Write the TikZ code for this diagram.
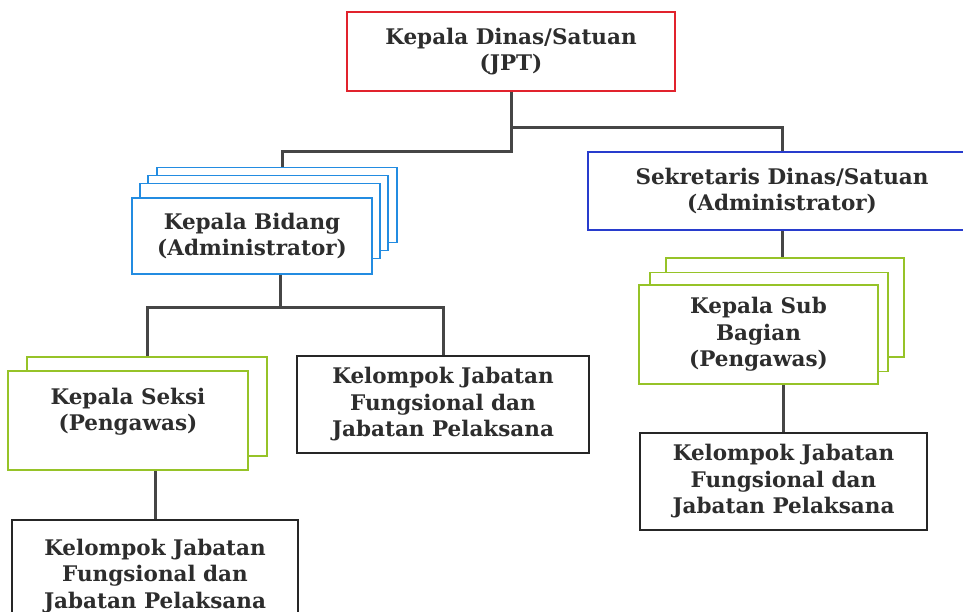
\documentclass[tikz,border=0pt]{standalone}
\usepackage{fontspec}
\setmainfont{DejaVu Serif}
\usetikzlibrary{positioning}
\definecolor{jptred}{RGB}{225,35,45}
\definecolor{bidangblue}{RGB}{35,140,225}
\definecolor{sekblue}{RGB}{40,60,205}
\definecolor{pengawasgreen}{RGB}{150,195,40}
\definecolor{linkgray}{RGB}{70,70,70}
\definecolor{txtgray}{RGB}{45,45,45}
\newcommand{\boxfont}{\bfseries\fontsize{21.5}{26.5}\selectfont}

\begin{document}
\begin{tikzpicture}[x=1pt,y=-1pt,
  orgbox/.style={draw,fill=white,line width=1.8pt,inner sep=0pt,
    text=txtgray,font=\boxfont,align=center},
  boxtext/.style={text=txtgray,font=\boxfont,align=center,inner sep=0pt},
  link/.style={draw=linkgray,line width=3pt}]
\clip (0,0) rectangle (963,612);
\fill[white] (0,0) rectangle (963,612);
% head of office
\node[orgbox,draw=jptred,minimum width=328pt,minimum height=79pt] (jpt) at (511,51.5)
  {Kepala Dinas/Satuan\\(JPT)};
% stack of Kepala Bidang boxes
\foreach \cx/\cy [count=\i] in {277/205,268/213,260/221}
  {\node[orgbox,draw=bidangblue,minimum width=240pt,minimum height=75pt] (bidangback\i) at (\cx,\cy) {};}
\node[orgbox,draw=bidangblue,minimum width=240pt,minimum height=76pt] (bidang) at (252,236)
  {Kepala Bidang\\(Administrator)};
% secretary
\node[orgbox,draw=sekblue,minimum width=388pt,minimum height=78pt] (sekretaris) at (782,191)
  {Sekretaris Dinas/Satuan\\(Administrator)};
% stack of Kepala Sub Bagian boxes
\foreach \cx/\cy [count=\i] in {785/307.5,769/322}
  {\node[orgbox,draw=pengawasgreen,minimum width=238pt,minimum height=99pt] (subbagback\i) at (\cx,\cy) {};}
\node[orgbox,draw=pengawasgreen,minimum width=239pt,minimum height=99pt] (subbag) at (758.5,334.5)
  {Kepala Sub\\Bagian\\(Pengawas)};
% stack of Kepala Seksi boxes
\node[orgbox,draw=pengawasgreen,minimum width=240pt,minimum height=99pt] (seksiback1) at (147,406.5) {};
\node[orgbox,draw=pengawasgreen,minimum width=240pt,minimum height=99pt] (seksi) at (128,420.5) {};
\node[boxtext] (seksitext) at ([yshift=9pt]seksi.center) {Kepala Seksi\\(Pengawas)};
% functional groups
\node[orgbox,draw=black!85,minimum width=292pt,minimum height=97pt] (kelmid) at (443,404.5)
  {Kelompok Jabatan\\Fungsional dan\\Jabatan Pelaksana};
\node[orgbox,draw=black!85,minimum width=287pt,minimum height=97pt] (kelright) at (783.5,481.5)
  {Kelompok Jabatan\\Fungsional dan\\Jabatan Pelaksana};
\node[orgbox,draw=black!85,minimum width=286pt,minimum height=112pt] (kelleft) at (155,576)
  {Kelompok Jabatan\\Fungsional dan\\Jabatan Pelaksana};
% connectors
\draw[link] (jpt.south) -- ++(0,60) -| ([xshift=5pt]bidangback1.north);
\draw[link] ([yshift=-36pt]jpt.south) -| (sekretaris.north);
\coordinate (forkB) at (280,307);
\draw[link] (bidang.south -| forkB) -- (forkB);
\draw[link] (seksiback1.north) |- (forkB) -| (kelmid.north);
\draw[link] (sekretaris.south) -- (sekretaris.south |- subbagback1.north);
\draw[link] (subbag.south -| kelright.north) -- (kelright.north);
\draw[link] (seksi.south -| kelleft.north) -- (kelleft.north);
\end{tikzpicture}
\end{document}
